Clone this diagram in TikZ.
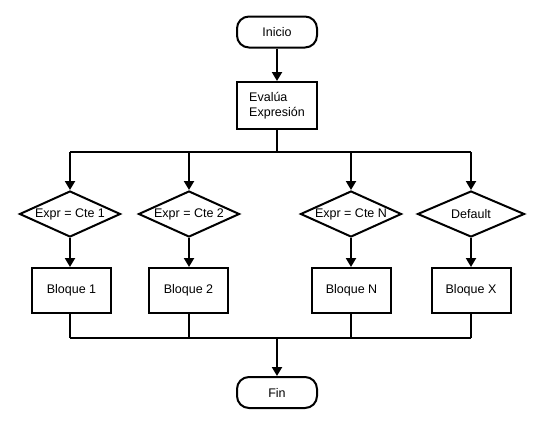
\documentclass[tikz,border=0pt]{standalone}
\usepackage{fontspec}
\setmainfont{Liberation Sans}
\usetikzlibrary{shapes.geometric,arrows.meta}
\begin{document}
\begin{tikzpicture}[x=1pt,y=-1pt,
  every node/.style={font=\fontsize{12.5}{15}\selectfont},
  ln/.style={line width=2pt},
  arr/.style={line width=2pt,-{Triangle[length=9pt,width=10pt]}},
  term/.style={draw,line width=2pt,rounded corners=12pt,minimum width=80pt,minimum height=31pt,inner sep=0pt},
  proc/.style={draw,line width=2pt,minimum width=79pt,minimum height=45pt,inner sep=0pt},
  dec/.style={draw,line width=2pt,diamond,minimum width=101pt,minimum height=46pt,inner sep=0pt,shape aspect=2.2}]
\useasboundingbox (0,0) rectangle (545,429);
\node[term] (ini) at (277,32) {Inicio};
\node[proc,minimum width=80pt,minimum height=47pt,align=left] (eval) at (277,105.5) {Evalúa\\Expresión};
\coordinate (top) at (277,152);
\node[dec] (d1) at (70,214) {Expr = Cte 1};
\node[dec] (d2) at (189,214) {Expr = Cte 2};
\node[dec] (d3) at (351,214) {Expr = Cte N};
\node[dec,minimum width=107pt] (d4) at (471,214) {Default};
\node[proc] (b1) at (71.5,290.5) {Bloque 1};
\node[proc] (b2) at (188.5,290.5) {Bloque 2};
\node[proc] (b3) at (351.5,290.5) {Bloque N};
\node[proc] (b4) at (471,290.5) {Bloque X};
\coordinate (bot) at (277,338);
\node[term] (fin) at (277,392.5) {Fin};
\draw[arr] (ini) -- (eval);
\draw[ln] (eval) -- (top);
\draw[ln] (d1.north |- top) -- (d4.north |- top);
\foreach \d/\b in {d1/b1,d2/b2,d3/b3,d4/b4}{
  \draw[arr] (\d.north |- top) -- (\d.north);
  \draw[arr] (\d.south) -- (\d.south |- \b.north);
  \draw[ln] (\d.south |- \b.south) -- (\d.south |- bot);
}
\draw[ln] (d1.south |- bot) -- (d4.south |- bot);
\draw[arr] (bot) -- (fin);
\end{tikzpicture}
\end{document}
